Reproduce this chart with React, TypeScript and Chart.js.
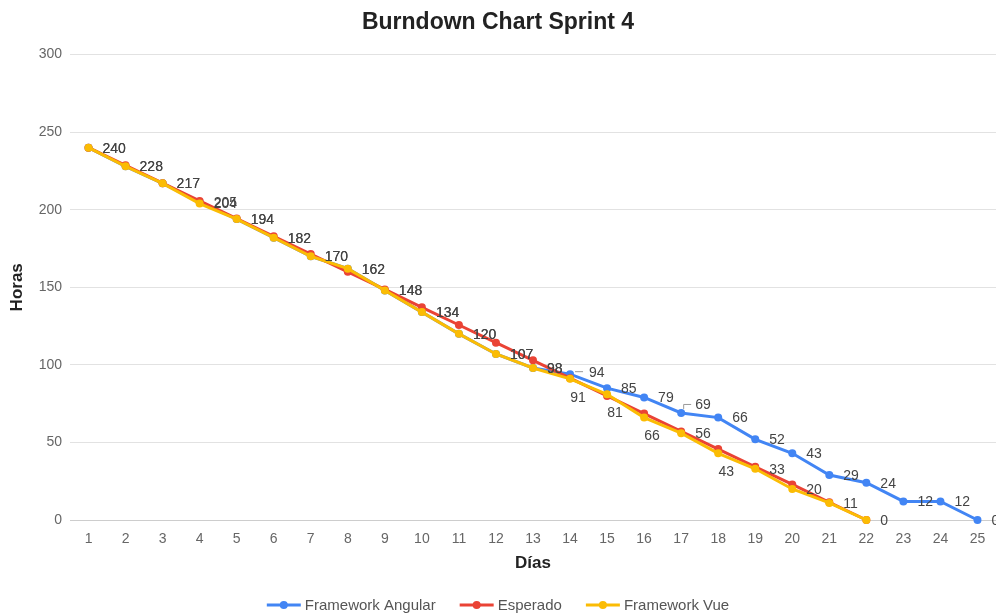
import { useEffect, useRef } from 'react';
import { Chart, registerables } from 'chart.js';

Chart.register(...registerables);

const FONT = "'Liberation Sans', Arial, sans-serif";

const days = ['1', '2', '3', '4', '5', '6', '7', '8', '9', '10', '11', '12', '13', '14', '15', '16', '17', '18', '19', '20', '21', '22', '23', '24', '25'];

const angular = [240, 228, 217, 205, 194, 182, 170, 162, 148, 134, 120, 107, 98, 94, 85, 79, 69, 66, 52, 43, 29, 24, 12, 12, 0];

const esperado = [240, 228.6, 217.1, 205.7, 194.3, 182.9, 171.4, 160, 148.6, 137.1, 125.7, 114.3, 102.9, 91.4, 80, 68.6, 57.1, 45.7, 34.3, 22.9, 11.4, 0];

const vue = [240, 228, 217, 204, 194, 182, 170, 162, 148, 134, 120, 107, 98, 91, 81, 66, 56, 43, 33, 20, 11, 0];

// where each value label sits relative to its point
const angularLabelSpots = ['r', 'r', 'r', 'r', 'r', 'r', 'r', 'r', 'r', 'r', 'r', 'r', 'r', 'lead', 'r', 'r', 'leadUp', 'r', 'r', 'r', 'r', 'r', 'r', 'r', 'r'];
const vueLabelSpots = ['r', 'r', 'r', 'r', 'r', 'r', 'r', 'r', 'r', 'r', 'r', 'r', 'r', 'b', 'b', 'b', 'r', 'b', 'r', 'r', 'r', 'r'];

const BLUE = '#4285F4';
const RED = '#EA4335';
const YELLOW = '#FBBC04';

const valueLabels = {
  id: 'valueLabels',
  afterDatasetsDraw(chart: any) {
    const ctx = chart.ctx;
    ctx.save();
    ctx.font = `14px ${FONT}`;
    ctx.fillStyle = '#444';
    ctx.strokeStyle = '#999';
    ctx.lineWidth = 1;
    ctx.textBaseline = 'middle';
    chart.data.datasets.forEach((ds: any, i: number) => {
      const spots: string[] | undefined = ds.labelSpots;
      if (!spots) return;
      const meta = chart.getDatasetMeta(i);
      meta.data.forEach((pt: any, j: number) => {
        const text = String(ds.data[j]);
        const x = pt.x;
        const y = pt.y;
        const spot = spots[j];
        if (spot === 'b') {
          ctx.textAlign = 'center';
          ctx.fillText(text, x + 8, y + 19);
        } else if (spot === 'lead') {
          ctx.beginPath();
          ctx.moveTo(x + 5, y - 2.5);
          ctx.lineTo(x + 13, y - 2.5);
          ctx.stroke();
          ctx.textAlign = 'left';
          ctx.fillText(text, x + 19, y - 1);
        } else if (spot === 'leadUp') {
          ctx.beginPath();
          ctx.moveTo(x + 2.5, y - 4);
          ctx.lineTo(x + 2.5, y - 8.5);
          ctx.lineTo(x + 10, y - 8.5);
          ctx.stroke();
          ctx.textAlign = 'left';
          ctx.fillText(text, x + 14, y - 8);
        } else {
          ctx.textAlign = 'left';
          ctx.fillText(text, x + 14, y + 1);
        }
      });
    });
    ctx.restore();
  },
};

const bottomLegend = {
  id: 'bottomLegend',
  afterDraw(chart: any) {
    const ctx = chart.ctx;
    const items = chart.data.datasets.map((ds: any) => ({ label: ds.label, color: ds.borderColor }));
    ctx.save();
    ctx.font = `15px ${FONT}`;
    ctx.textBaseline = 'middle';
    ctx.textAlign = 'left';
    const sym = 34;
    const gapText = 4;
    const gapItem = 24;
    const widths = items.map((it: any) => sym + gapText + ctx.measureText(it.label).width);
    const total = widths.reduce((a: number, b: number) => a + b, 0) + gapItem * (items.length - 1);
    let x = chart.width / 2 - total / 2;
    const y = 605;
    items.forEach((it: any, k: number) => {
      ctx.strokeStyle = it.color;
      ctx.lineWidth = 3;
      ctx.beginPath();
      ctx.moveTo(x, y);
      ctx.lineTo(x + sym, y);
      ctx.stroke();
      ctx.fillStyle = it.color;
      ctx.beginPath();
      ctx.arc(x + sym / 2, y, 4, 0, Math.PI * 2);
      ctx.fill();
      ctx.fillStyle = '#555';
      ctx.fillText(it.label, x + sym + gapText, y + 1);
      x += widths[k] + gapItem;
    });
    ctx.restore();
  },
};

export default function App() {
  const canvasRef = useRef<HTMLCanvasElement | null>(null);

  useEffect(() => {
    const canvas = canvasRef.current;
    if (!canvas) return;
    const lineStyle = (color: string) => ({
      borderColor: color,
      backgroundColor: color,
      pointBackgroundColor: color,
      pointBorderColor: color,
      borderWidth: 3,
      pointRadius: 4,
      pointHoverRadius: 4,
      pointBorderWidth: 0,
      tension: 0,
      fill: false,
      clip: false as const,
    });
    const chart = new Chart(canvas, {
      type: 'line',
      data: {
        labels: days,
        datasets: [
          { label: 'Framework Angular', data: angular, order: 3, labelSpots: angularLabelSpots, ...lineStyle(BLUE) } as any,
          { label: 'Esperado', data: esperado, order: 2, ...lineStyle(RED) } as any,
          { label: 'Framework Vue', data: vue, order: 1, labelSpots: vueLabelSpots, ...lineStyle(YELLOW) } as any,
        ],
      },
      options: {
        animation: false,
        responsive: false,
        layout: { autoPadding: false, padding: { left: 0, right: 0, top: 0, bottom: 40 } },
        plugins: {
          legend: { display: false },
          tooltip: { enabled: false },
          title: {
            display: true,
            text: 'Burndown Chart Sprint 4',
            color: '#222',
            font: { family: FONT, size: 23, weight: 'bold' },
            padding: { top: 9, bottom: 18 },
          },
        },
        scales: {
          x: {
            offset: true,
            afterFit: (scale: any) => {
              scale.height = 54;
              scale.paddingLeft = 0;
              scale.paddingRight = 0;
            },
            grid: { display: false, drawTicks: true, tickLength: 11 },
            border: { display: false },
            ticks: { color: '#666', font: { family: FONT, size: 14 }, padding: 0, maxRotation: 0, autoSkip: false },
            title: {
              display: true,
              text: 'Días',
              color: '#222',
              font: { family: FONT, size: 17, weight: 'bold' },
              padding: { top: 0, bottom: 0 },
            },
          },
          y: {
            min: 0,
            max: 300,
            afterFit: (scale: any) => {
              scale.width = 70;
            },
            grid: {
              drawTicks: false,
              color: (c: any) => (c.tick && c.tick.value === 0 ? '#cdcdcd' : '#e2e2e2'),
            },
            border: { display: false },
            ticks: { stepSize: 50, color: '#666', font: { family: FONT, size: 14 }, padding: 8 },
            title: {
              display: true,
              text: 'Horas',
              color: '#222',
              font: { family: FONT, size: 17, weight: 'bold' },
              padding: { top: 7, bottom: 0 },
            },
          },
        },
      },
      plugins: [valueLabels, bottomLegend],
    });
    return () => chart.destroy();
  }, []);

  return (
    <div style={{ position: 'fixed', left: 0, top: 0, width: 996, height: 614, background: '#fff' }}>
      <canvas ref={canvasRef} width={996} height={614} />
    </div>
  );
}
